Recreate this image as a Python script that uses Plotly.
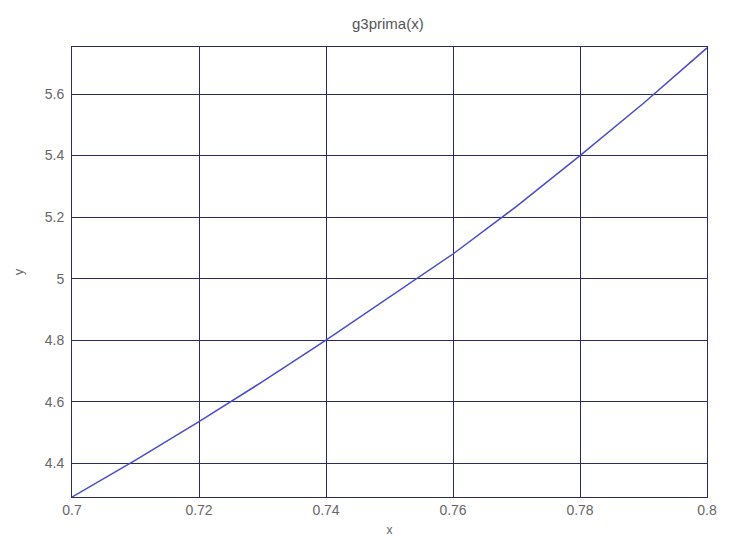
import plotly.graph_objects as go

# sampled values of g3prima(x) on [0.7, 0.8]
x_vals = [0.70, 0.71, 0.72, 0.73, 0.74, 0.75, 0.76, 0.77, 0.78, 0.79, 0.80]
y_vals = [4.29, 4.41, 4.535, 4.665, 4.80, 4.94, 5.08, 5.235, 5.40, 5.57, 5.75]

x_ticks = [0.7, 0.72, 0.74, 0.76, 0.78, 0.8]
x_tick_text = ["0.7", "0.72", "0.74", "0.76", "0.78", "0.8"]
y_ticks = [4.4, 4.6, 4.8, 5.0, 5.2, 5.4, 5.6]
y_tick_text = ["4.4", "4.6", "4.8", "5", "5.2", "5.4", "5.6"]

grid_col = "#2a2a6a"
font_fam = "Liberation Sans, Arial, sans-serif"

fig = go.Figure()
fig.add_trace(go.Scatter(
    x=x_vals, y=y_vals, mode="lines",
    line=dict(color="#4a4ad0", width=1.5),
    showlegend=False,
))

fig.update_layout(
    width=729, height=546,
    margin=dict(l=72, r=18, t=47, b=48),
    paper_bgcolor="white", plot_bgcolor="white",
    title=dict(text="g3prima(x)", x=0.532, xanchor="center", y=0.956, yanchor="middle",
               font=dict(family=font_fam, size=15, color="#555555")),
    font=dict(family=font_fam, color="#666666"),
    xaxis=dict(
        range=[0.7, 0.8], tickvals=x_ticks, ticktext=x_tick_text,
        showgrid=True, gridcolor=grid_col, gridwidth=1,
        showline=True, linecolor=grid_col, linewidth=1, mirror=True,
        zeroline=False, ticks="", tickfont=dict(size=14, color="#666666"),
        title=dict(text="x", font=dict(size=12, color="#666666"), standoff=8),
    ),
    yaxis=dict(
        range=[4.29, 5.753], tickvals=y_ticks, ticktext=y_tick_text,
        showgrid=True, gridcolor=grid_col, gridwidth=1,
        showline=True, linecolor=grid_col, linewidth=1, mirror=True,
        zeroline=False, ticks="", ticklabelstandoff=4,
        tickfont=dict(size=14, color="#666666"),
        title=dict(text="y", font=dict(size=13, color="#666666"), standoff=18),
    ),
)

fig.write_html("out.html")
